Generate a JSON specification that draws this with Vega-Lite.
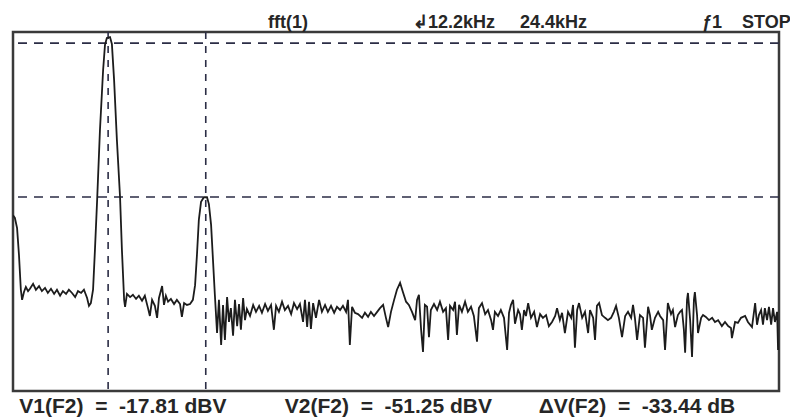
{
  "$schema": "https://vega.github.io/schema/vega-lite/v6.json",
  "width": 766,
  "height": 359,
  "autosize": "none",
  "padding": {"left": 13, "top": 32, "right": 11, "bottom": 27},
  "background": "white",
  "config": {
    "view": {"stroke": "#3a3a3a", "strokeWidth": 2.5},
    "font": "Liberation Sans"
  },
  "title": {
    "text": "fft(1)\u00a0\u00a0\u00a0\u00a0\u00a0\u00a0\u00a0\u00a0\u00a0\u00a0\u00a0\u00a0\u00a0\u00a0\u00a0\u00a0\u00a0\u00a0\u00a0\u00a0\u00a0\u21b212.2kHz\u00a0\u00a0\u00a0\u00a0\u00a024.4kHz\u00a0\u00a0\u00a0\u00a0\u00a0\u00a0\u00a0\u00a0\u00a0\u00a0\u00a0\u00a0\u00a0\u00a0\u00a0\u00a0\u00a0\u00a0\u00a0\u00a0\u00a0\u00a0\u00a0\u01921\u00a0\u00a0\u00a0\u00a0STOP",
    "anchor": "end",
    "dx": 11,
    "dy": 20,
    "fontSize": 18,
    "fontWeight": "bold",
    "font": "Liberation Sans",
    "color": "#262626",
    "baseline": "alphabetic",
    "offset": 5
  },
  "datasets": {
    "trace": [
      {"kHz": 0.00, "dBV": -55.2}, {"kHz": 0.06, "dBV": -55.8}, {"kHz": 0.13, "dBV": -58.0}, {"kHz": 0.19, "dBV": -63.8},
      {"kHz": 0.25, "dBV": -71.4}, {"kHz": 0.29, "dBV": -73.6}, {"kHz": 0.35, "dBV": -71.9}, {"kHz": 0.41, "dBV": -70.8},
      {"kHz": 0.48, "dBV": -71.7}, {"kHz": 0.54, "dBV": -71.2}, {"kHz": 0.64, "dBV": -70.1}, {"kHz": 0.73, "dBV": -71.4},
      {"kHz": 0.83, "dBV": -70.6}, {"kHz": 0.92, "dBV": -71.7}, {"kHz": 1.02, "dBV": -71.0}, {"kHz": 1.11, "dBV": -72.1},
      {"kHz": 1.21, "dBV": -71.2}, {"kHz": 1.31, "dBV": -72.3}, {"kHz": 1.40, "dBV": -71.4}, {"kHz": 1.50, "dBV": -72.7},
      {"kHz": 1.59, "dBV": -71.7}, {"kHz": 1.69, "dBV": -72.3}, {"kHz": 1.78, "dBV": -71.4}, {"kHz": 1.88, "dBV": -72.1},
      {"kHz": 1.98, "dBV": -73.0}, {"kHz": 2.07, "dBV": -71.7}, {"kHz": 2.17, "dBV": -72.1}, {"kHz": 2.26, "dBV": -71.4},
      {"kHz": 2.36, "dBV": -73.2}, {"kHz": 2.42, "dBV": -74.9}, {"kHz": 2.48, "dBV": -74.3}, {"kHz": 2.55, "dBV": -71.4},
      {"kHz": 2.61, "dBV": -62.8}, {"kHz": 2.68, "dBV": -51.9}, {"kHz": 2.77, "dBV": -36.7}, {"kHz": 2.87, "dBV": -23.7},
      {"kHz": 2.93, "dBV": -18.2}, {"kHz": 2.99, "dBV": -16.7}, {"kHz": 3.09, "dBV": -16.5}, {"kHz": 3.15, "dBV": -18.0},
      {"kHz": 3.22, "dBV": -25.8}, {"kHz": 3.31, "dBV": -38.9}, {"kHz": 3.41, "dBV": -51.3}, {"kHz": 3.47, "dBV": -62.8},
      {"kHz": 3.54, "dBV": -73.6}, {"kHz": 3.57, "dBV": -75.1}, {"kHz": 3.63, "dBV": -72.3}, {"kHz": 3.73, "dBV": -73.0},
      {"kHz": 3.82, "dBV": -72.5}, {"kHz": 3.92, "dBV": -73.4}, {"kHz": 4.01, "dBV": -72.7}, {"kHz": 4.11, "dBV": -73.8},
      {"kHz": 4.20, "dBV": -72.7}, {"kHz": 4.30, "dBV": -75.4}, {"kHz": 4.36, "dBV": -77.1}, {"kHz": 4.43, "dBV": -73.6},
      {"kHz": 4.52, "dBV": -74.9}, {"kHz": 4.59, "dBV": -77.5}, {"kHz": 4.65, "dBV": -73.2}, {"kHz": 4.75, "dBV": -70.6},
      {"kHz": 4.81, "dBV": -74.7}, {"kHz": 4.87, "dBV": -72.7}, {"kHz": 4.94, "dBV": -74.0}, {"kHz": 5.03, "dBV": -73.4},
      {"kHz": 5.13, "dBV": -74.5}, {"kHz": 5.22, "dBV": -73.6}, {"kHz": 5.32, "dBV": -74.5}, {"kHz": 5.38, "dBV": -77.3},
      {"kHz": 5.45, "dBV": -74.3}, {"kHz": 5.54, "dBV": -74.7}, {"kHz": 5.64, "dBV": -74.5}, {"kHz": 5.73, "dBV": -73.6},
      {"kHz": 5.80, "dBV": -70.4}, {"kHz": 5.86, "dBV": -63.8}, {"kHz": 5.92, "dBV": -56.2}, {"kHz": 5.99, "dBV": -52.3},
      {"kHz": 6.08, "dBV": -51.3}, {"kHz": 6.18, "dBV": -51.3}, {"kHz": 6.24, "dBV": -52.8}, {"kHz": 6.31, "dBV": -57.3},
      {"kHz": 6.37, "dBV": -64.9}, {"kHz": 6.43, "dBV": -72.5}, {"kHz": 6.50, "dBV": -80.8}, {"kHz": 6.56, "dBV": -73.6},
      {"kHz": 6.63, "dBV": -83.4}, {"kHz": 6.69, "dBV": -74.7}, {"kHz": 6.75, "dBV": -82.3}, {"kHz": 6.82, "dBV": -73.0},
      {"kHz": 6.88, "dBV": -78.4}, {"kHz": 6.94, "dBV": -75.4}, {"kHz": 7.01, "dBV": -81.4}, {"kHz": 7.07, "dBV": -73.6},
      {"kHz": 7.14, "dBV": -79.3}, {"kHz": 7.20, "dBV": -74.5}, {"kHz": 7.26, "dBV": -80.1}, {"kHz": 7.33, "dBV": -73.2},
      {"kHz": 7.39, "dBV": -78.0}, {"kHz": 7.45, "dBV": -75.6}, {"kHz": 7.55, "dBV": -77.1}, {"kHz": 7.65, "dBV": -74.7},
      {"kHz": 7.74, "dBV": -76.2}, {"kHz": 7.84, "dBV": -74.9}, {"kHz": 7.93, "dBV": -76.4}, {"kHz": 8.03, "dBV": -74.5},
      {"kHz": 8.12, "dBV": -76.0}, {"kHz": 8.22, "dBV": -74.7}, {"kHz": 8.31, "dBV": -80.1}, {"kHz": 8.38, "dBV": -74.9},
      {"kHz": 8.47, "dBV": -76.2}, {"kHz": 8.57, "dBV": -74.0}, {"kHz": 8.66, "dBV": -75.8}, {"kHz": 8.76, "dBV": -74.9},
      {"kHz": 8.86, "dBV": -76.7}, {"kHz": 8.95, "dBV": -74.3}, {"kHz": 9.05, "dBV": -75.6}, {"kHz": 9.14, "dBV": -74.5},
      {"kHz": 9.24, "dBV": -78.4}, {"kHz": 9.30, "dBV": -73.6}, {"kHz": 9.37, "dBV": -79.5}, {"kHz": 9.43, "dBV": -74.0},
      {"kHz": 9.49, "dBV": -79.9}, {"kHz": 9.56, "dBV": -74.3}, {"kHz": 9.65, "dBV": -77.5}, {"kHz": 9.75, "dBV": -73.6},
      {"kHz": 9.84, "dBV": -76.2}, {"kHz": 9.94, "dBV": -74.7}, {"kHz": 10.03, "dBV": -76.2}, {"kHz": 10.13, "dBV": -74.9},
      {"kHz": 10.23, "dBV": -76.4}, {"kHz": 10.32, "dBV": -75.1}, {"kHz": 10.42, "dBV": -75.8}, {"kHz": 10.51, "dBV": -74.9},
      {"kHz": 10.61, "dBV": -76.2}, {"kHz": 10.67, "dBV": -73.6}, {"kHz": 10.73, "dBV": -83.4}, {"kHz": 10.80, "dBV": -75.1},
      {"kHz": 10.89, "dBV": -76.4}, {"kHz": 10.99, "dBV": -76.7}, {"kHz": 11.12, "dBV": -77.5}, {"kHz": 11.21, "dBV": -76.4},
      {"kHz": 11.31, "dBV": -77.3}, {"kHz": 11.40, "dBV": -76.2}, {"kHz": 11.50, "dBV": -77.1}, {"kHz": 11.60, "dBV": -76.2},
      {"kHz": 11.69, "dBV": -75.4}, {"kHz": 11.79, "dBV": -74.7}, {"kHz": 11.88, "dBV": -77.5}, {"kHz": 11.95, "dBV": -79.5},
      {"kHz": 12.04, "dBV": -76.2}, {"kHz": 12.14, "dBV": -73.6}, {"kHz": 12.23, "dBV": -71.4}, {"kHz": 12.33, "dBV": -69.9},
      {"kHz": 12.42, "dBV": -71.9}, {"kHz": 12.52, "dBV": -74.0}, {"kHz": 12.61, "dBV": -74.7}, {"kHz": 12.71, "dBV": -76.2},
      {"kHz": 12.81, "dBV": -78.0}, {"kHz": 12.87, "dBV": -73.6}, {"kHz": 12.93, "dBV": -72.5}, {"kHz": 13.00, "dBV": -80.1},
      {"kHz": 13.06, "dBV": -84.9}, {"kHz": 13.12, "dBV": -74.7}, {"kHz": 13.19, "dBV": -75.1}, {"kHz": 13.25, "dBV": -81.7},
      {"kHz": 13.31, "dBV": -75.8}, {"kHz": 13.41, "dBV": -74.5}, {"kHz": 13.51, "dBV": -75.8}, {"kHz": 13.60, "dBV": -74.0},
      {"kHz": 13.70, "dBV": -76.2}, {"kHz": 13.79, "dBV": -75.4}, {"kHz": 13.86, "dBV": -82.3}, {"kHz": 13.92, "dBV": -74.9},
      {"kHz": 14.02, "dBV": -75.8}, {"kHz": 14.08, "dBV": -74.0}, {"kHz": 14.14, "dBV": -81.2}, {"kHz": 14.21, "dBV": -74.7},
      {"kHz": 14.30, "dBV": -76.2}, {"kHz": 14.40, "dBV": -74.0}, {"kHz": 14.49, "dBV": -76.2}, {"kHz": 14.59, "dBV": -75.1},
      {"kHz": 14.68, "dBV": -77.1}, {"kHz": 14.78, "dBV": -82.7}, {"kHz": 14.84, "dBV": -75.4}, {"kHz": 14.94, "dBV": -74.3},
      {"kHz": 15.04, "dBV": -76.7}, {"kHz": 15.13, "dBV": -75.8}, {"kHz": 15.23, "dBV": -78.0}, {"kHz": 15.29, "dBV": -80.1},
      {"kHz": 15.35, "dBV": -76.2}, {"kHz": 15.45, "dBV": -77.1}, {"kHz": 15.54, "dBV": -75.8}, {"kHz": 15.64, "dBV": -77.5},
      {"kHz": 15.74, "dBV": -84.5}, {"kHz": 15.80, "dBV": -76.4}, {"kHz": 15.86, "dBV": -74.7}, {"kHz": 15.93, "dBV": -73.6},
      {"kHz": 15.99, "dBV": -78.8}, {"kHz": 16.09, "dBV": -75.8}, {"kHz": 16.15, "dBV": -76.7}, {"kHz": 16.21, "dBV": -80.1},
      {"kHz": 16.28, "dBV": -75.8}, {"kHz": 16.34, "dBV": -77.1}, {"kHz": 16.41, "dBV": -74.3}, {"kHz": 16.50, "dBV": -77.5},
      {"kHz": 16.60, "dBV": -76.2}, {"kHz": 16.69, "dBV": -79.5}, {"kHz": 16.79, "dBV": -76.7}, {"kHz": 16.88, "dBV": -77.5},
      {"kHz": 16.98, "dBV": -76.9}, {"kHz": 17.07, "dBV": -79.3}, {"kHz": 17.17, "dBV": -78.4}, {"kHz": 17.27, "dBV": -77.1},
      {"kHz": 17.33, "dBV": -75.4}, {"kHz": 17.42, "dBV": -78.0}, {"kHz": 17.49, "dBV": -76.4}, {"kHz": 17.58, "dBV": -80.8},
      {"kHz": 17.68, "dBV": -76.2}, {"kHz": 17.78, "dBV": -77.5}, {"kHz": 17.84, "dBV": -74.7}, {"kHz": 17.90, "dBV": -84.0},
      {"kHz": 17.97, "dBV": -75.8}, {"kHz": 18.03, "dBV": -74.3}, {"kHz": 18.13, "dBV": -77.5}, {"kHz": 18.22, "dBV": -76.2},
      {"kHz": 18.32, "dBV": -80.8}, {"kHz": 18.38, "dBV": -75.8}, {"kHz": 18.48, "dBV": -77.5}, {"kHz": 18.54, "dBV": -82.3},
      {"kHz": 18.60, "dBV": -74.9}, {"kHz": 18.67, "dBV": -74.3}, {"kHz": 18.76, "dBV": -76.9}, {"kHz": 18.86, "dBV": -77.5},
      {"kHz": 18.95, "dBV": -78.0}, {"kHz": 19.05, "dBV": -77.5}, {"kHz": 19.14, "dBV": -76.2}, {"kHz": 19.21, "dBV": -74.9},
      {"kHz": 19.30, "dBV": -77.5}, {"kHz": 19.40, "dBV": -81.7}, {"kHz": 19.50, "dBV": -77.1}, {"kHz": 19.59, "dBV": -76.2},
      {"kHz": 19.69, "dBV": -77.5}, {"kHz": 19.75, "dBV": -74.7}, {"kHz": 19.81, "dBV": -77.5}, {"kHz": 19.88, "dBV": -82.3},
      {"kHz": 19.97, "dBV": -76.9}, {"kHz": 20.07, "dBV": -77.5}, {"kHz": 20.13, "dBV": -84.0}, {"kHz": 20.23, "dBV": -75.1},
      {"kHz": 20.29, "dBV": -76.9}, {"kHz": 20.35, "dBV": -80.1}, {"kHz": 20.45, "dBV": -77.5}, {"kHz": 20.55, "dBV": -76.2},
      {"kHz": 20.61, "dBV": -77.1}, {"kHz": 20.71, "dBV": -78.0}, {"kHz": 20.77, "dBV": -84.5}, {"kHz": 20.86, "dBV": -74.3},
      {"kHz": 20.96, "dBV": -76.7}, {"kHz": 21.02, "dBV": -75.8}, {"kHz": 21.09, "dBV": -79.5}, {"kHz": 21.18, "dBV": -76.9},
      {"kHz": 21.25, "dBV": -76.2}, {"kHz": 21.31, "dBV": -75.8}, {"kHz": 21.37, "dBV": -80.1}, {"kHz": 21.41, "dBV": -85.1},
      {"kHz": 21.47, "dBV": -73.6}, {"kHz": 21.50, "dBV": -72.1}, {"kHz": 21.57, "dBV": -78.0}, {"kHz": 21.63, "dBV": -86.0},
      {"kHz": 21.69, "dBV": -73.6}, {"kHz": 21.72, "dBV": -71.9}, {"kHz": 21.79, "dBV": -76.9}, {"kHz": 21.82, "dBV": -80.8},
      {"kHz": 21.92, "dBV": -77.5}, {"kHz": 21.98, "dBV": -76.9}, {"kHz": 22.07, "dBV": -77.3}, {"kHz": 22.17, "dBV": -78.0},
      {"kHz": 22.27, "dBV": -77.5}, {"kHz": 22.36, "dBV": -78.4}, {"kHz": 22.46, "dBV": -78.0}, {"kHz": 22.58, "dBV": -79.3},
      {"kHz": 22.68, "dBV": -78.4}, {"kHz": 22.78, "dBV": -79.3}, {"kHz": 22.87, "dBV": -79.7}, {"kHz": 22.90, "dBV": -81.9},
      {"kHz": 23.00, "dBV": -78.4}, {"kHz": 23.09, "dBV": -78.6}, {"kHz": 23.19, "dBV": -77.5}, {"kHz": 23.32, "dBV": -77.1},
      {"kHz": 23.41, "dBV": -78.4}, {"kHz": 23.54, "dBV": -79.5}, {"kHz": 23.64, "dBV": -74.3}, {"kHz": 23.70, "dBV": -79.0},
      {"kHz": 23.76, "dBV": -76.9}, {"kHz": 23.83, "dBV": -75.8}, {"kHz": 23.89, "dBV": -79.0}, {"kHz": 23.95, "dBV": -75.4},
      {"kHz": 24.02, "dBV": -78.0}, {"kHz": 24.08, "dBV": -75.1}, {"kHz": 24.15, "dBV": -79.0}, {"kHz": 24.21, "dBV": -75.4},
      {"kHz": 24.27, "dBV": -78.4}, {"kHz": 24.34, "dBV": -76.2}, {"kHz": 24.37, "dBV": -84.5}
    ],
    "levels": [{"dBV": -17.81}, {"dBV": -51.25}],
    "cursors": [{"kHz": 3.03}, {"kHz": 6.14}]
  },
  "layer": [
    {
      "data": {"name": "levels"},
      "mark": {"type": "rule", "color": "#2b2d45", "strokeWidth": 1.6, "strokeDash": [9, 7]},
      "encoding": {
        "y": {"field": "dBV", "type": "quantitative", "scale": {"domain": [-93.4, -15.4], "nice": false, "zero": false}, "axis": null}
      }
    },
    {
      "data": {"name": "cursors"},
      "mark": {"type": "rule", "color": "#2b2d45", "strokeWidth": 1.6, "strokeDash": [7, 7]},
      "encoding": {
        "x": {"field": "kHz", "type": "quantitative", "scale": {"domain": [0, 24.4], "nice": false, "zero": false}}
      }
    },
    {
      "data": {"name": "trace"},
      "mark": {"type": "line", "color": "#1c1c1c", "strokeWidth": 1.8, "clip": true},
      "encoding": {
        "x": {
          "field": "kHz", "type": "quantitative",
          "scale": {"domain": [0, 24.4], "nice": false, "zero": false},
          "axis": {
            "title": "\u200b\u00a0V1(F2)\u00a0\u00a0=\u00a0\u00a0-17.81\u00a0dBV\u00a0\u00a0\u00a0\u00a0\u00a0\u00a0\u00a0\u00a0\u00a0\u00a0V2(F2)\u00a0\u00a0=\u00a0\u00a0-51.25\u00a0dBV\u00a0\u00a0\u00a0\u00a0\u00a0\u00a0\u00a0\u00a0\u0394V(F2)\u00a0\u00a0=\u00a0\u00a0-33.44\u00a0dB",
            "labels": false, "ticks": false, "domain": false, "grid": false,
            "titleAnchor": "start", "titleFontSize": 21, "titleFont": "Liberation Sans",
            "titleFontWeight": "bold", "titleColor": "#262626",
            "titleBaseline": "alphabetic", "titlePadding": 21
          }
        },
        "y": {"field": "dBV", "type": "quantitative", "scale": {"domain": [-93.4, -15.4], "nice": false, "zero": false}, "axis": null}
      }
    }
  ]
}
